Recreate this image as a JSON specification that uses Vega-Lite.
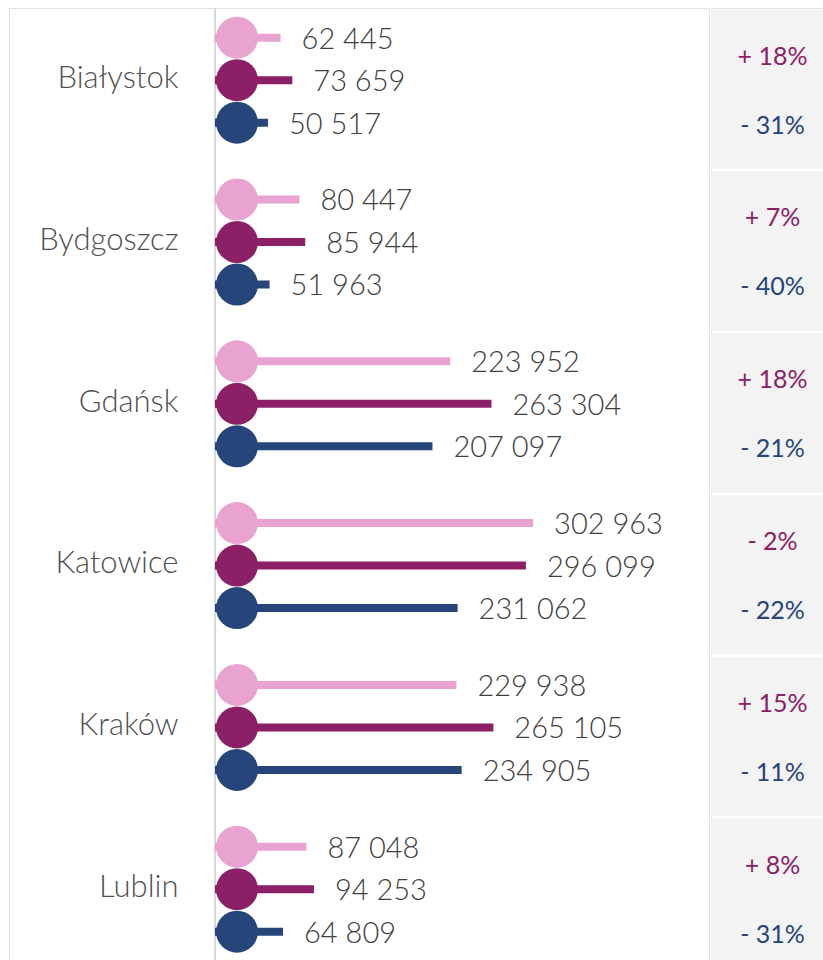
{
  "$schema": "https://vega.github.io/schema/vega-lite/v6.json",
  "padding": {"left": 8, "top": 7, "right": 0, "bottom": 0},
  "background": "white",
  "spacing": 0,
  "resolve": {"scale": {"color": "independent", "yOffset": "independent", "y": "independent"}},
  "config": {
    "view": {"stroke": "#dde3eb", "strokeWidth": 1},
    "font": "Lato",
    "concat": {"spacing": 0},
    "locale": {"number": {"decimal": ",", "thousands": " ", "grouping": [3], "currency": ["", " zł"]}}
  },
  "datasets": {
    "lolli": [
      {"city": "Białystok", "series": "2019", "value": 62445},
      {"city": "Białystok", "series": "2020", "value": 73659},
      {"city": "Białystok", "series": "2021", "value": 50517},
      {"city": "Bydgoszcz", "series": "2019", "value": 80447},
      {"city": "Bydgoszcz", "series": "2020", "value": 85944},
      {"city": "Bydgoszcz", "series": "2021", "value": 51963},
      {"city": "Gdańsk", "series": "2019", "value": 223952},
      {"city": "Gdańsk", "series": "2020", "value": 263304},
      {"city": "Gdańsk", "series": "2021", "value": 207097},
      {"city": "Katowice", "series": "2019", "value": 302963},
      {"city": "Katowice", "series": "2020", "value": 296099},
      {"city": "Katowice", "series": "2021", "value": 231062},
      {"city": "Kraków", "series": "2019", "value": 229938},
      {"city": "Kraków", "series": "2020", "value": 265105},
      {"city": "Kraków", "series": "2021", "value": 234905},
      {"city": "Lublin", "series": "2019", "value": 87048},
      {"city": "Lublin", "series": "2020", "value": 94253},
      {"city": "Lublin", "series": "2021", "value": 64809}
    ],
    "pct": [
      {"city": "Białystok", "dir": "up", "label": "+ 18%"},
      {"city": "Białystok", "dir": "down", "label": "- 31%"},
      {"city": "Bydgoszcz", "dir": "up", "label": "+ 7%"},
      {"city": "Bydgoszcz", "dir": "down", "label": "- 40%"},
      {"city": "Gdańsk", "dir": "up", "label": "+ 18%"},
      {"city": "Gdańsk", "dir": "down", "label": "- 21%"},
      {"city": "Katowice", "dir": "up", "label": "- 2%"},
      {"city": "Katowice", "dir": "down", "label": "- 22%"},
      {"city": "Kraków", "dir": "up", "label": "+ 15%"},
      {"city": "Kraków", "dir": "down", "label": "- 11%"},
      {"city": "Lublin", "dir": "up", "label": "+ 8%"},
      {"city": "Lublin", "dir": "down", "label": "- 31%"}
    ]
  },
  "hconcat": [
    {
      "width": 700,
      "height": 953,
      "data": {"name": "lolli"},
      "encoding": {
        "y": {
          "field": "city", "type": "nominal", "sort": null,
          "scale": {"type": "band", "range": [0, 970.8], "paddingInner": 0, "paddingOuter": 0, "align": 0, "round": false},
          "axis": {
            "orient": "left", "offset": -206, "title": null, "ticks": false, "grid": false,
            "domain": false,
            "labelPadding": 37, "labelFont": "Lato", "labelFontWeight": 300, "labelFontSize": 31,
            "labelColor": "#505050", "labelOffset": -10, "labelLimit": 0
          }
        },
        "yOffset": {
          "field": "series", "type": "nominal", "sort": null,
          "scale": {"type": "band", "domain": ["2019", "2020", "2021"], "paddingInner": 0, "paddingOuter": 0.4035, "align": 0.246, "round": false}
        },
        "color": {
          "field": "series", "type": "nominal",
          "scale": {"domain": ["2019", "2020", "2021"], "range": ["#E8A3D1", "#8B2067", "#26457A"]},
          "legend": null
        }
      },
      "layer": [
        {
          "mark": {"type": "rule", "color": "#d9d9d9", "strokeWidth": 1.5, "clip": true},
          "encoding": {
            "x": {"datum": 0, "type": "quantitative", "scale": {"domain": [-196190, 470476], "nice": false, "zero": false}, "axis": null},
            "y": null, "yOffset": null, "color": null
          }
        },
        {
          "mark": {"type": "bar", "height": 8},
          "encoding": {
            "x": {"field": "value", "type": "quantitative"},
            "x2": {"datum": 0}
          }
        },
        {
          "mark": {"type": "point", "shape": "circle", "filled": true, "opacity": 1, "size": 1764, "xOffset": 22},
          "encoding": {"x": {"datum": 0, "type": "quantitative"}}
        },
        {
          "mark": {"type": "text", "align": "left", "baseline": "middle", "dx": 21, "dy": 2, "font": "Lato", "fontWeight": 300, "fontSize": 29},
          "encoding": {
            "x": {"field": "value", "type": "quantitative"},
            "text": {"field": "value", "type": "quantitative", "format": ",d"},
            "color": {"value": "#404040"}
          }
        }
      ]
    },
    {
      "width": 115,
      "height": 953,
      "data": {"name": "pct"},
      "encoding": {
        "y": {
          "field": "city", "type": "nominal", "sort": null,
          "scale": {"type": "band", "range": [0, 971.3], "paddingInner": 0.0155, "paddingOuter": 0.0093, "align": 0.5, "round": false},
          "axis": null
        }
      },
      "layer": [
        {
          "mark": {"type": "rect", "color": "#f3f3f3", "clip": true}
        },
        {
          "mark": {"type": "text", "align": "center", "baseline": "middle", "dx": 4, "dy": 2, "font": "Lato", "fontWeight": 400, "fontSize": 25},
          "encoding": {
            "yOffset": {
              "field": "dir", "type": "nominal", "sort": null,
              "scale": {"type": "band", "domain": ["up", "down"], "paddingInner": 0, "paddingOuter": 0.154, "align": 0.5, "round": false}
            },
            "text": {"field": "label"},
            "color": {
              "field": "dir", "type": "nominal",
              "scale": {"domain": ["up", "down"], "range": ["#8B2067", "#26457A"]},
              "legend": null
            }
          }
        }
      ]
    }
  ]
}
